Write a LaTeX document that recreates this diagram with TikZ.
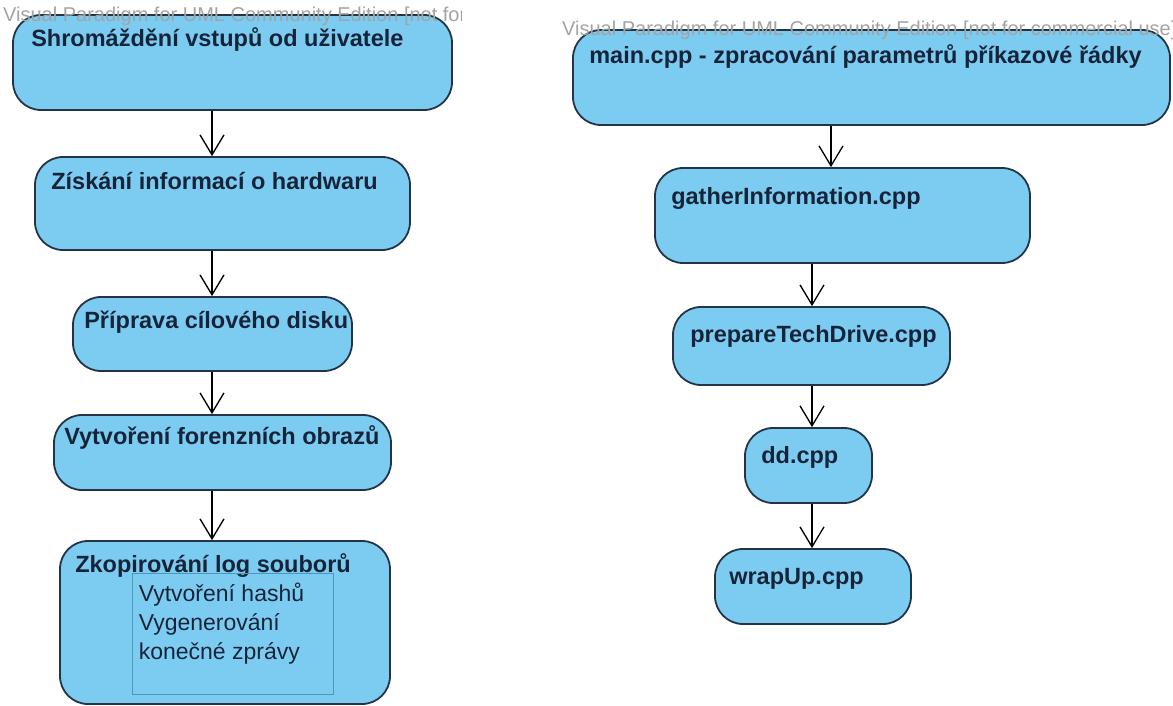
\documentclass[tikz,border=0pt]{standalone}
\usepackage{fontspec}
\setmainfont{Liberation Sans}
\usetikzlibrary{arrows.meta, positioning}
\definecolor{actfill}{HTML}{7CCCF2}
\definecolor{actdraw}{HTML}{243447}
\definecolor{titletext}{HTML}{16243A}
\definecolor{notedraw}{HTML}{4C97BC}
\definecolor{wmgray}{HTML}{A3A3A3}

\begin{document}
\begin{tikzpicture}[
    x=1pt, y=-1pt,
    act/.style={
        draw=actdraw, fill=actfill,
        rounded corners=28pt,
        line width=1.8pt,
        inner sep=0pt
    },
    acttitle/.style={
        anchor=base west, inner sep=0pt,
        text=titletext,
        font=\fontsize{23.5}{28}\selectfont\bfseries
    },
    note/.style={
        draw=notedraw, line width=0.8pt, inner sep=0pt
    },
    notetext/.style={
        anchor=north west, inner sep=0pt, align=left,
        text=titletext,
        font=\fontsize{23}{29}\selectfont
    },
    flow/.style={
        -{Straight Barb[length=20pt, width=24pt]},
        line width=1.3pt,
        color=black
    },
    watermark/.style={
        anchor=base west, inner sep=0pt,
        text=wmgray,
        font=\fontsize{20}{22}\selectfont
    }
]
\useasboundingbox (0,0) rectangle (1173,706);

% Left column: activities
\node[act, minimum width=439pt, minimum height=95pt] (b1) at (232.5,62.5) {};
\node[act, minimum width=375pt, minimum height=93pt] (b2) at (222.5,203.5) {};
\node[act, minimum width=279pt, minimum height=74pt] (b3) at (212.5,334) {};
\node[act, minimum width=337pt, minimum height=75pt] (b4) at (222.5,452.5) {};
\node[act, minimum width=330pt, minimum height=163pt] (b5) at (225,622.5) {};

\node[acttitle, xshift=19pt, yshift=-32pt] (t1) at (b1.north west) {Shromáždění vstupů od uživatele};
\node[acttitle, xshift=17pt, yshift=-33pt] (t2) at (b2.north west) {Získání informací o hardwaru};
\node[acttitle, xshift=12pt, yshift=-32pt] (t3) at (b3.north west) {Příprava cílového disku};
\node[acttitle, xshift=11pt, yshift=-30pt] (t4) at (b4.north west) {Vytvoření forenzních obrazů};
\node[acttitle, xshift=16pt, yshift=-32pt] (t5) at (b5.north west) {Zkopirování log souborů};

% Inner note of the last activity
\node[note, minimum width=201pt, minimum height=121pt] (n5) at (232.5,633.5) {};
\node[notetext, xshift=7pt, yshift=-10pt] (n5text) at (n5.north west)
    {Vytvoření hashů\\Vygenerování\\konečné zprávy};

% Right column: source files
\node[act, minimum width=597pt, minimum height=95pt] (r1) at (871.5,77.5) {};
\node[act, minimum width=375pt, minimum height=95pt] (r2) at (842.5,215.5) {};
\node[act, minimum width=277pt, minimum height=78pt] (r3) at (811.5,346) {};
\node[act, minimum width=127pt, minimum height=75pt] (r4) at (808.5,465.5) {};
\node[act, minimum width=196pt, minimum height=75pt] (r5) at (813,586.5) {};

\node[acttitle, xshift=17pt, yshift=-34pt] (s1) at (r1.north west) {main.cpp - zpracování parametrů příkazové řádky};
\node[acttitle, xshift=17pt, yshift=-37pt] (s2) at (r2.north west) {gatherInformation.cpp};
\node[acttitle, xshift=18pt, yshift=-36pt] (s3) at (r3.north west) {prepareTechDrive.cpp};
\node[acttitle, xshift=17pt, yshift=-36pt] (s4) at (r4.north west) {dd.cpp};
\node[acttitle, xshift=15pt, yshift=-36pt] (s5) at (r5.north west) {wrapUp.cpp};

% Arrows
\coordinate (lx) at (212,0);
\coordinate (rx) at (812,0);
\coordinate (rxa) at (831,0);
\draw[flow] (b1.south -| lx) -- (b2.north -| lx);
\draw[flow] (b2.south -| lx) -- (b3.north -| lx);
\draw[flow] (b3.south -| lx) -- (b4.north -| lx);
\draw[flow] (b4.south -| lx) -- (b5.north -| lx);
\draw[flow] (r1.south -| rxa) -- (r2.north -| rxa);
\draw[flow] (r2.south -| rx) -- (r3.north -| rx);
\draw[flow] (r3.south -| rx) -- (r4.north -| rx);
\draw[flow] (r4.south -| rx) -- (r5.north -| rx);

% Watermarks
\begin{scope}
\clip (0,0) rectangle (461,40);
\node[watermark] (wm1) at (3,22) {Visual Paradigm for UML Community Edition [not for commercial use]};
\end{scope}
\begin{scope}
\clip (540,0) rectangle (1173,50);
\node[watermark] (wm2) at (562,36) {Visual Paradigm for UML Community Edition [not for commercial use]};
\end{scope}
\end{tikzpicture}
\end{document}
